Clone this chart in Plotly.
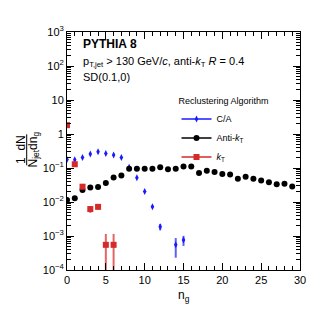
import plotly.graph_objects as go

ng_antikt = list(range(0, 30))
antikt = [0.0115, 0.0129, 0.0224, 0.0269, 0.0275, 0.0363, 0.0525, 0.0603, 0.0955, 0.0955,
          0.0955, 0.0955, 0.105, 0.0912, 0.0955, 0.110, 0.110, 0.0708, 0.0832, 0.0759,
          0.0661, 0.0646, 0.0479, 0.0550, 0.0479, 0.0427, 0.0380, 0.0331, 0.0347, 0.0288]

ng_ca = [0, 1, 2, 3, 4, 5, 6, 7, 8, 9, 10, 11, 12, 14, 15]
ca = [0.178, 0.174, 0.204, 0.257, 0.302, 0.269, 0.240, 0.204, 0.105, 0.0513, 0.0204,
      0.00724, 0.00186, 0.00055, 0.00076]
ca_err = [0, 0, 0, 0, 0, 0, 0, 0, 0, 0, 0, 0.0006, 0.0004, 0.00032, 0.00025]

ng_kt = [0, 1, 2, 3, 4, 5, 6]
kt = [1.82, 0.129, 0.0282, 0.0062, 0.0072, 0.00055, 0.00055]
kt_err = [0, 0, 0.003, 0.0014, 0.0013, 0.0006, 0.0006]

ytick_vals = [1e-4, 1e-3, 1e-2, 1e-1, 1, 10, 100, 1000]
ytick_text = ["10<sup>−4</sup>", "10<sup>−3</sup>", "10<sup>−2</sup>", "10<sup>−1</sup>",
              "1", "10", "10<sup>2</sup>", "10<sup>3</sup>"]

FONT = "Liberation Sans, Arial, sans-serif"
BLUE = "#1a1aff"
RED = "#d42a2a"

fig = go.Figure()

fig.add_trace(go.Scatter(
    x=ng_ca, y=ca, mode="markers", showlegend=False,
    marker=dict(symbol="diamond-tall", size=5, color=BLUE),
    error_y=dict(type="data", array=ca_err, color="rgba(40,40,255,0.75)", thickness=2, width=0)))
fig.add_trace(go.Scatter(
    x=ng_antikt, y=antikt, mode="markers", showlegend=False,
    marker=dict(symbol="circle", size=6, color="black")))
kt_minus = [min(e, v * 0.999) if e > 0 else 0 for v, e in zip(kt, kt_err)]
fig.add_trace(go.Scatter(
    x=ng_kt, y=kt, mode="markers", showlegend=False,
    marker=dict(symbol="square", size=6, color=RED),
    error_y=dict(type="data", array=kt_err, arrayminus=kt_minus,
                 color="rgba(220,50,50,0.75)", thickness=2, width=0)))

# legend entries
fig.add_trace(go.Scatter(x=[None], y=[None], mode="lines+markers", name="C/A",
                         marker=dict(symbol="diamond-tall", size=5, color=BLUE),
                         line=dict(color=BLUE, width=1.5)))
fig.add_trace(go.Scatter(x=[None], y=[None], mode="lines+markers", name="Anti-<i>k</i><sub>T</sub>",
                         marker=dict(symbol="circle", size=6, color="black"),
                         line=dict(color="black", width=1.5)))
fig.add_trace(go.Scatter(x=[None], y=[None], mode="lines+markers", name="<i>k</i><sub>T</sub>",
                         marker=dict(symbol="square", size=6, color=RED),
                         line=dict(color=RED, width=1.5)))

axis_common = dict(showline=True, linecolor="black", linewidth=1, mirror="allticks",
                   ticks="inside", tickcolor="black", showgrid=False, zeroline=False,
                   automargin=False,
                   tickfont=dict(family=FONT, size=11, color="black"))

fig.update_xaxes(range=[0, 30], tick0=0, dtick=5, ticklen=7,
                 minor=dict(dtick=1, ticks="inside", ticklen=4, tickcolor="black"),
                 **axis_common)
fig.update_yaxes(type="log", range=[-4, 3], tickvals=ytick_vals, ticktext=ytick_text, ticklen=7,
                 minor=dict(dtick="D1", ticks="inside", ticklen=4, tickcolor="black"),
                 **axis_common)

# x-axis title
fig.add_annotation(x=0.5, y=-0.068, xref="paper", yref="paper", xanchor="center", yanchor="top",
                   text="n<sub>g</sub>", showarrow=False, font=dict(family=FONT, size=12, color="black"))

fig.add_annotation(x=0.06, y=0.95, xref="paper", yref="paper", xanchor="left", yanchor="middle",
                   text="<b>PYTHIA 8</b>", showarrow=False, font=dict(family=FONT, size=12, color="black"))
fig.add_annotation(x=0.06, y=0.875, xref="paper", yref="paper", xanchor="left", yanchor="middle",
                   text="p<sub>T,jet</sub> > 130 GeV/<i>c</i>, anti-<i>k</i><sub>T</sub> <i>R</i> = 0.4",
                   showarrow=False, font=dict(family=FONT, size=11, color="black"))
fig.add_annotation(x=0.06, y=0.81, xref="paper", yref="paper", xanchor="left", yanchor="middle",
                   text="SD(0.1,0)", showarrow=False, font=dict(family=FONT, size=11, color="black"))

# y-axis title as a fraction
fig.add_annotation(xref="paper", yref="paper", x=-0.197, y=0.505, textangle=-90, showarrow=False,
                   text="1  dN", font=dict(family=FONT, size=12, color="black"),
                   xanchor="center", yanchor="middle")
fig.add_annotation(xref="paper", yref="paper", x=-0.143, y=0.505, textangle=-90, showarrow=False,
                   text="N<sub>jet</sub>dn<sub>g</sub>", font=dict(family=FONT, size=12, color="black"),
                   xanchor="center", yanchor="middle")
fig.add_shape(type="line", xref="paper", yref="paper", x0=-0.173, x1=-0.173, y0=0.44, y1=0.57,
              line=dict(color="black", width=1))

fig.update_layout(
    width=332, height=319,
    margin=dict(l=59, r=40, t=24, b=57, autoexpand=False),
    paper_bgcolor="white", plot_bgcolor="white",
    font=dict(family=FONT, color="black"),
    legend=dict(x=0.47, y=0.745, xanchor="left", yanchor="top",
                title=dict(text="Reclustering Algorithm", side="top",
                           font=dict(family=FONT, size=9, color="black")),
                font=dict(family=FONT, size=9, color="black"),
                bgcolor="rgba(0,0,0,0)", itemwidth=30, tracegroupgap=0),
)

fig.write_html("out.html")
